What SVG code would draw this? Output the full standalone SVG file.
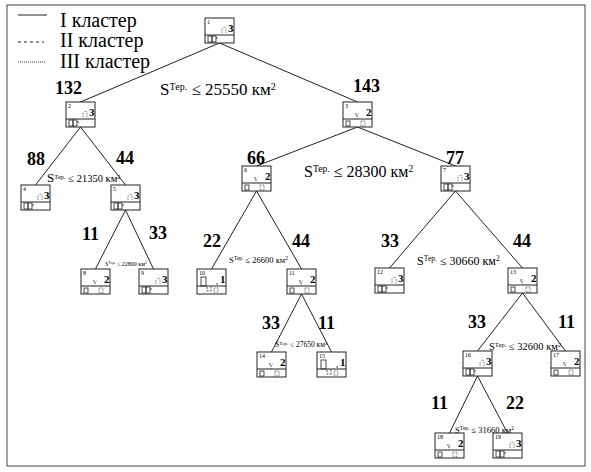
<svg xmlns="http://www.w3.org/2000/svg" width="591" height="472" viewBox="0 0 591 472" font-family="'Liberation Serif', 'DejaVu Serif', serif">
<style>
text{font-family:"Liberation Serif","DejaVu Serif","Noto Serif",serif;fill:#000}
.frame{fill:#fff;stroke:#444;stroke-width:1}
.box{fill:#fff;stroke:#222;stroke-width:1}
.dv{stroke:#222;stroke-width:1}
.e{stroke:#222;stroke-width:1;fill:none}
.num{font-size:18px;font-weight:bold}
.id{font-size:6px}
.cl{font-size:11px;font-weight:bold}
.s{stroke:#222;stroke-width:0.8;fill:none}
.d{stroke:#222;stroke-width:0.8;fill:none;stroke-dasharray:2 1.5}
.o{stroke:#333;stroke-width:0.8;fill:none;stroke-dasharray:0.8 0.8}
.lg{font-size:20px}
</style>
<rect class="frame" x="7" y="5" width="578" height="461"/>
<g id="legend">
<line x1="18" y1="15" x2="47" y2="15" stroke="#222" stroke-width="1"/>
<text class="lg" x="60" y="27">I кластер</text>
<line x1="18" y1="42" x2="44" y2="42" stroke="#222" stroke-width="1" stroke-dasharray="3 3"/>
<text class="lg" x="60" y="47">II кластер</text>
<line x1="18" y1="62" x2="45" y2="62" stroke="#333" stroke-width="1" stroke-dasharray="1 1"/>
<text class="lg" x="60" y="68">III кластер</text>
</g>
<g id="connectors">
<line class="e" x1="219.5" y1="43" x2="80.5" y2="102"/>
<line class="e" x1="219.5" y1="43" x2="357.5" y2="102"/>
<line class="e" x1="80.5" y1="127" x2="35.5" y2="185"/>
<line class="e" x1="80.5" y1="127" x2="125.5" y2="185"/>
<line class="e" x1="357.5" y1="127" x2="256.5" y2="166"/>
<line class="e" x1="357.5" y1="127" x2="455.5" y2="166"/>
<line class="e" x1="125.5" y1="210" x2="95.5" y2="269"/>
<line class="e" x1="125.5" y1="210" x2="153.5" y2="269"/>
<line class="e" x1="256.5" y1="191" x2="211.5" y2="269"/>
<line class="e" x1="256.5" y1="191" x2="301.5" y2="269"/>
<line class="e" x1="455.5" y1="191" x2="389.5" y2="268"/>
<line class="e" x1="455.5" y1="191" x2="522.5" y2="268"/>
<line class="e" x1="301.5" y1="294" x2="271.5" y2="352"/>
<line class="e" x1="301.5" y1="294" x2="331.5" y2="352"/>
<line class="e" x1="522.5" y1="293" x2="477.5" y2="351"/>
<line class="e" x1="522.5" y1="293" x2="565.5" y2="351"/>
<line class="e" x1="477.5" y1="376" x2="449.5" y2="433"/>
<line class="e" x1="477.5" y1="376" x2="507.5" y2="433"/>
</g>
<g id="labels">
<text class="num" x="55" y="94">132</text>
<text class="num" x="353" y="92">143</text>
<text class="num" x="27" y="165">88</text>
<text class="num" x="116" y="164">44</text>
<text class="num" x="247" y="164">66</text>
<text class="num" x="446" y="164">77</text>
<text class="num" x="82" y="240">11</text>
<text class="num" x="149" y="239">33</text>
<text class="num" x="203" y="247">22</text>
<text class="num" x="292" y="247">44</text>
<text class="num" x="381" y="247">33</text>
<text class="num" x="513" y="247">44</text>
<text class="num" x="262" y="329">33</text>
<text class="num" x="318" y="329">11</text>
<text class="num" x="468" y="328">33</text>
<text class="num" x="558" y="328">11</text>
<text class="num" x="431" y="409">11</text>
<text class="num" x="506" y="409">22</text>
<text x="160" y="95" font-size="17">S<tspan font-size="10" baseline-shift="super">Тер.</tspan> ≤ 25550 км<tspan font-size="10" baseline-shift="super">2</tspan></text>
<text x="47" y="182" font-size="10.5"><tspan font-size="13">S</tspan><tspan font-size="6.5" baseline-shift="super">Тер.</tspan> ≤ 21350 км<tspan font-size="6.5" baseline-shift="super">2</tspan></text>
<text x="105" y="266" font-size="6">S<tspan font-size="4" baseline-shift="super">Тер.</tspan> ≤ 22800 км<tspan font-size="4" baseline-shift="super">2</tspan></text>
<text x="304" y="177" font-size="16">S<tspan font-size="9.5" baseline-shift="super">Тер.</tspan> ≤ 28300 км<tspan font-size="9.5" baseline-shift="super">2</tspan></text>
<text x="229" y="263" font-size="8.5">S<tspan font-size="5.5" baseline-shift="super">Тер.</tspan> ≤ 26600 км<tspan font-size="5.5" baseline-shift="super">2</tspan></text>
<text x="417" y="265" font-size="12">S<tspan font-size="7.5" baseline-shift="super">Тер.</tspan> ≤ 30660 км<tspan font-size="7.5" baseline-shift="super">2</tspan></text>
<text x="275" y="347" font-size="7.5">S<tspan font-size="5" baseline-shift="super">Тер.</tspan> ≤ 27650 км<tspan font-size="5" baseline-shift="super">2</tspan></text>
<text x="489" y="350" font-size="10.5">S<tspan font-size="6.5" baseline-shift="super">Тер.</tspan> ≤ 32600 км<tspan font-size="6.5" baseline-shift="super">2</tspan></text>
<text x="455" y="433" font-size="8.5">S<tspan font-size="5.5" baseline-shift="super">Тер.</tspan> ≤ 31660 км<tspan font-size="5.5" baseline-shift="super">2</tspan></text>
</g>
<defs>
<g id="c3">
<path class="o" d="M17 15 v-4 q2 -3 4 -1 v5"/>
<rect class="s" x="3" y="18" width="4" height="6"/>
<rect class="s" x="7" y="18" width="4" height="6"/>
<path class="d" d="M12 19 v3"/>
</g>
<g id="c2">
<path class="d" d="M12 12 h4 M14 13 v4"/>
<rect class="s" x="3" y="19" width="4" height="5"/>
<rect class="o" x="18" y="19" width="4" height="5"/>
</g>
<g id="c1">
<rect class="s" x="4" y="8" width="5" height="9"/>
<path class="d" d="M10 18 v4 h4 v-4 M20 14 v3"/>
<rect class="o" x="17" y="19" width="4" height="4"/>
</g>
</defs>
<g id="n1" transform="translate(205,18)"><rect class="box" width="29" height="25"/><line class="dv" x1="0" y1="17" x2="29" y2="17"/><text class="id" x="2" y="6">1</text><text class="cl" x="23" y="14">3</text><use href="#c3"/></g>
<g id="n2" transform="translate(66,102)"><rect class="box" width="29" height="25"/><line class="dv" x1="0" y1="17" x2="29" y2="17"/><text class="id" x="2" y="6">2</text><text class="cl" x="23" y="14">3</text><use href="#c3"/></g>
<g id="n3" transform="translate(343,102)"><rect class="box" width="29" height="25"/><line class="dv" x1="0" y1="17" x2="29" y2="17"/><text class="id" x="2" y="6">3</text><text class="cl" x="23" y="14">2</text><use href="#c2"/></g>
<g id="n4" transform="translate(21,185)"><rect class="box" width="29" height="25"/><line class="dv" x1="0" y1="17" x2="29" y2="17"/><text class="id" x="2" y="6">4</text><text class="cl" x="23" y="14">3</text><use href="#c3"/></g>
<g id="n5" transform="translate(111,185)"><rect class="box" width="29" height="25"/><line class="dv" x1="0" y1="17" x2="29" y2="17"/><text class="id" x="2" y="6">5</text><text class="cl" x="23" y="14">3</text><use href="#c3"/></g>
<g id="n6" transform="translate(242,166)"><rect class="box" width="29" height="25"/><line class="dv" x1="0" y1="17" x2="29" y2="17"/><text class="id" x="2" y="6">6</text><text class="cl" x="23" y="14">2</text><use href="#c2"/></g>
<g id="n7" transform="translate(441,166)"><rect class="box" width="29" height="25"/><line class="dv" x1="0" y1="17" x2="29" y2="17"/><text class="id" x="2" y="6">7</text><text class="cl" x="23" y="14">3</text><use href="#c3"/></g>
<g id="n8" transform="translate(81,269)"><rect class="box" width="29" height="25"/><line class="dv" x1="0" y1="17" x2="29" y2="17"/><text class="id" x="2" y="6">8</text><text class="cl" x="23" y="14">2</text><use href="#c2"/></g>
<g id="n9" transform="translate(139,269)"><rect class="box" width="29" height="25"/><line class="dv" x1="0" y1="17" x2="29" y2="17"/><text class="id" x="2" y="6">9</text><text class="cl" x="23" y="14">3</text><use href="#c3"/></g>
<g id="n10" transform="translate(197,269)"><rect class="box" width="29" height="25"/><line class="dv" x1="0" y1="17" x2="29" y2="17"/><text class="id" x="2" y="6">10</text><text class="cl" x="23" y="14">1</text><use href="#c1"/></g>
<g id="n11" transform="translate(287,269)"><rect class="box" width="29" height="25"/><line class="dv" x1="0" y1="17" x2="29" y2="17"/><text class="id" x="2" y="6">11</text><text class="cl" x="23" y="14">2</text><use href="#c2"/></g>
<g id="n12" transform="translate(375,268)"><rect class="box" width="29" height="25"/><line class="dv" x1="0" y1="17" x2="29" y2="17"/><text class="id" x="2" y="6">12</text><text class="cl" x="23" y="14">3</text><use href="#c3"/></g>
<g id="n13" transform="translate(508,268)"><rect class="box" width="29" height="25"/><line class="dv" x1="0" y1="17" x2="29" y2="17"/><text class="id" x="2" y="6">13</text><text class="cl" x="23" y="14">2</text><use href="#c2"/></g>
<g id="n14" transform="translate(257,352)"><rect class="box" width="29" height="25"/><line class="dv" x1="0" y1="17" x2="29" y2="17"/><text class="id" x="2" y="6">14</text><text class="cl" x="23" y="14">2</text><use href="#c2"/></g>
<g id="n15" transform="translate(317,352)"><rect class="box" width="29" height="25"/><line class="dv" x1="0" y1="17" x2="29" y2="17"/><text class="id" x="2" y="6">15</text><text class="cl" x="23" y="14">1</text><use href="#c1"/></g>
<g id="n16" transform="translate(463,351)"><rect class="box" width="29" height="25"/><line class="dv" x1="0" y1="17" x2="29" y2="17"/><text class="id" x="2" y="6">16</text><text class="cl" x="23" y="14">3</text><use href="#c3"/></g>
<g id="n17" transform="translate(551,351)"><rect class="box" width="29" height="25"/><line class="dv" x1="0" y1="17" x2="29" y2="17"/><text class="id" x="2" y="6">17</text><text class="cl" x="23" y="14">2</text><use href="#c2"/></g>
<g id="n18" transform="translate(435,433)"><rect class="box" width="29" height="25"/><line class="dv" x1="0" y1="17" x2="29" y2="17"/><text class="id" x="2" y="6">18</text><text class="cl" x="23" y="14">2</text><use href="#c2"/></g>
<g id="n19" transform="translate(493,433)"><rect class="box" width="29" height="25"/><line class="dv" x1="0" y1="17" x2="29" y2="17"/><text class="id" x="2" y="6">19</text><text class="cl" x="23" y="14">3</text><use href="#c3"/></g>
</svg>
